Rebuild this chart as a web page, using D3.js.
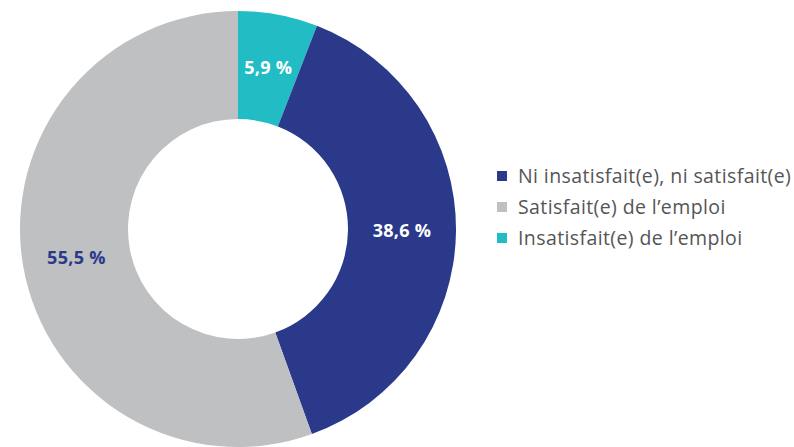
<!DOCTYPE html>
<html>
<head>
<meta charset="utf-8">
<script src="https://cdn.jsdelivr.net/npm/d3@7"></script>
<style>
  body { margin: 0; background: #fff; }
  text { font-family: "Open Sans", Lato, sans-serif; }
</style>
</head>
<body>
<svg></svg>
<script>
const categories = ['Insatisfait(e) de l\u2019emploi', 'Ni insatisfait(e), ni satisfait(e)', 'Satisfait(e) de l\u2019emploi'];
const values = [5.9, 38.6, 55.5];
const colors = ['#22bcc4', '#2a398a', '#bfc0c2'];
const labelColors = ['#fff', '#fff', '#2a398a'];
const legendOrder = [1, 2, 0];

const width = 794, height = 447;
const cx = 238, cy = 229;
const outer = 218, inner = 110;

const svg = d3.select('svg')
  .attr('width', width)
  .attr('height', height);

const pie = d3.pie().sort(null).value(d => d);
const arcs = pie(values);

const arc = d3.arc().innerRadius(inner).outerRadius(outer);
const labelArc = d3.arc().innerRadius((inner + outer) / 2).outerRadius((inner + outer) / 2);

const g = svg.append('g')
  .attr('transform', `translate(${cx}, ${cy})`);

g.selectAll('path')
  .data(arcs)
  .enter().append('path')
    .attr('d', arc)
    .attr('fill', (d, i) => colors[i]);

g.selectAll('.lbl')
  .data(arcs)
  .enter().append('text')
    .attr('class', 'lbl')
    .attr('transform', d => `translate(${labelArc.centroid(d)})`)
    .attr('text-anchor', 'middle')
    .attr('dy', '0.35em')
    .style('font-size', '18px')
    .style('font-weight', 'bold')
    .style('letter-spacing', '0.3px')
    .attr('fill', (d, i) => labelColors[i])
    .text(d => d3.format('.1f')(d.data).replace('.', ',') + ' %');

const legend = svg.append('g')
  .attr('transform', 'translate(497, 176)');

const rows = legend.selectAll('g')
  .data(legendOrder)
  .enter().append('g')
    .attr('transform', (d, i) => `translate(0, ${i * 31})`);

rows.append('rect')
  .attr('x', 0).attr('y', -5)
  .attr('width', 10).attr('height', 10)
  .attr('fill', d => colors[d]);

rows.append('text')
  .attr('x', 21)
  .attr('dy', '0.35em')
  .style('font-size', '19.5px')
  .style('letter-spacing', '0.4px')
  .attr('fill', '#555')
  .text(d => categories[d]);
</script>
</body>
</html>
